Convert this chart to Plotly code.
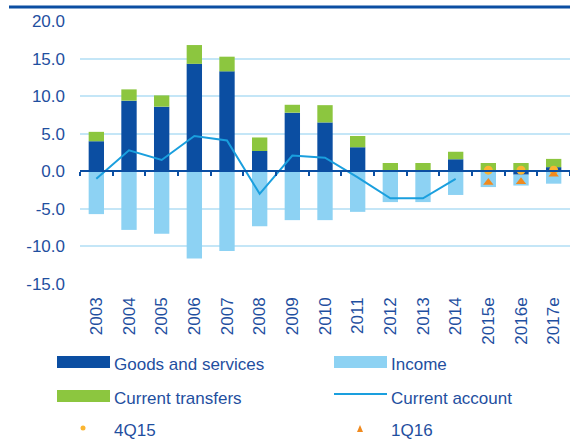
import plotly.graph_objects as go

# ---------------- data ----------------
years = ['2003', '2004', '2005', '2006', '2007', '2008', '2009', '2010',
         '2011', '2012', '2013', '2014', '2015e', '2016e', '2017e']
goods = [4.0, 9.4, 8.6, 14.3, 13.3, 2.7, 7.8, 6.5, 3.2, 0.0, 0.0, 1.6, 0.0, -0.45, 0.55]
income = [-5.7, -7.8, -8.3, -11.6, -10.6, -7.3, -6.5, -6.5, -5.4, -4.1, -4.1, -3.15,
          -2.1, -1.45, -1.65]
transfers = [1.25, 1.5, 1.5, 2.5, 1.95, 1.8, 1.05, 2.3, 1.5, 1.1, 1.1, 1.0, 1.1, 1.1, 1.1]
ca_years = years[:12]
current_account = [-1.0, 2.8, 1.5, 4.7, 4.1, -3.0, 2.1, 1.8, -0.8, -3.6, -3.6, -1.0]
fc_years = ['2015e', '2016e', '2017e']
q4_15 = [0.15, 0.15, 0.15]
q1_16 = [-1.5, -1.4, -0.4]
y_ticks = [-15, -10, -5, 0, 5, 10, 15, 20]
y_ticktext = ['{:.1f}'.format(v) for v in y_ticks]

# ---------------- style ----------------
C_GOODS = '#0b4ea2'
C_INCOME = '#8dd2f3'
C_TRANS = '#8cc63f'
C_LINE = '#1a9fde'
C_DOT = '#fbb530'
C_TRI = '#f08a1e'
C_TEXT = '#1f4f9f'
C_GRID = '#c4e6f7'
FONT = 'Liberation Sans, Arial, sans-serif'
FS = 17

W, H = 570, 441
L, R, T, B = 80, 0, 21, 157


def px_x(x):
    return (x - L) / (W - L - R)


def px_y(y):
    return 1 - (y - T) / (H - T - B)


fig = go.Figure()
fig.add_trace(go.Bar(x=years, y=goods, name='Goods and services',
                     marker=dict(color=C_GOODS, line=dict(width=0))))
fig.add_trace(go.Bar(x=years, y=income, name='Income',
                     marker=dict(color=C_INCOME, line=dict(width=0))))
fig.add_trace(go.Bar(x=years, y=transfers, name='Current transfers',
                     marker=dict(color=C_TRANS, line=dict(width=0))))
fig.add_trace(go.Scatter(x=ca_years, y=current_account, name='Current account',
                         mode='lines', line=dict(color=C_LINE, width=2)))
fig.add_trace(go.Scatter(x=fc_years, y=q4_15, name='4Q15', mode='markers',
                         marker=dict(symbol='circle', size=9, color=C_DOT),
                         cliponaxis=False))
fig.add_trace(go.Scatter(x=fc_years, y=q1_16, name='1Q16', mode='markers',
                         marker=dict(symbol='triangle-up', size=9, color=C_TRI),
                         cliponaxis=False))
# helper trace so the overlay axis (zero line with boundary ticks) is drawn
fig.add_trace(go.Scatter(x=[-0.5, 14.5], y=[0, 0], xaxis='x2', mode='none',
                         showlegend=False, hoverinfo='skip'))

shapes = [
    dict(type='line', xref='paper', yref='paper', x0=px_x(9), x1=px_x(570),
         y0=px_y(7), y1=px_y(7), line=dict(color=C_GOODS, width=3)),
]
annotations = []

# manual legend
leg = [
    ('rect', C_GOODS, 57, 364, 'Goods and services'),
    ('rect', C_INCOME, 334, 364, 'Income'),
    ('rect', C_TRANS, 57, 398, 'Current transfers'),
    ('line', C_LINE, 334, 398, 'Current account'),
    ('dot', C_DOT, 57, 430, '4Q15'),
    ('tri', C_TRI, 334, 430, '1Q16'),
]
for kind, col, x0, yc, label in leg:
    if kind == 'rect':
        shapes.append(dict(type='rect', xref='paper', yref='paper',
                           x0=px_x(x0), x1=px_x(x0 + 53), y0=px_y(yc - 8), y1=px_y(yc + 4),
                           fillcolor=col, line=dict(width=0)))
    elif kind == 'line':
        shapes.append(dict(type='line', xref='paper', yref='paper',
                           x0=px_x(x0), x1=px_x(x0 + 53), y0=px_y(yc - 4), y1=px_y(yc - 4),
                           line=dict(color=col, width=2)))
    elif kind == 'dot':
        cx, cy = x0 + 26, yc - 2
        shapes.append(dict(type='circle', xref='paper', yref='paper',
                           x0=px_x(cx - 2.5), x1=px_x(cx + 2.5), y0=px_y(cy - 2.5), y1=px_y(cy + 2.5),
                           fillcolor=col, line=dict(width=0)))
    else:
        cx, cy = x0 + 26, yc - 1
        path = 'M {} {} L {} {} L {} {} Z'.format(px_x(cx - 3), px_y(cy + 3),
                                                 px_x(cx + 3), px_y(cy + 3),
                                                 px_x(cx), px_y(cy - 4))
        shapes.append(dict(type='path', xref='paper', yref='paper', path=path,
                           fillcolor=col, line=dict(width=0)))
    annotations.append(dict(xref='paper', yref='paper', x=px_x(x0 + 55), y=px_y(yc),
                            xanchor='left', yanchor='middle', text=label, showarrow=False,
                            font=dict(family=FONT, size=FS, color=C_TEXT)))

fig.update_layout(
    width=W, height=H,
    margin=dict(l=L, r=R, t=T, b=B, pad=0),
    paper_bgcolor='white', plot_bgcolor='white',
    barmode='relative', bargap=0.53,
    showlegend=False,
    font=dict(family=FONT, size=FS, color=C_TEXT),
    xaxis=dict(type='category', range=[-0.5, 14.5], tickangle=-90,
               showgrid=False, zeroline=False, showline=False, ticks='',
               ticklabelstandoff=9,
               tickfont=dict(family=FONT, size=FS, color=C_TEXT)),
    xaxis2=dict(overlaying='x', anchor='free', position=15 / 35, type='linear',
                range=[-0.5, 14.5], tick0=-0.5, dtick=1, ticks='outside',
                ticklen=4, tickwidth=2, tickcolor=C_GOODS,
                showline=True, linecolor=C_GOODS, linewidth=2,
                showticklabels=False, showgrid=False, zeroline=False,
                layer='above traces'),
    yaxis=dict(range=[-15, 20], tickvals=y_ticks, ticktext=y_ticktext,
               showgrid=True, gridcolor=C_GRID, gridwidth=2,
               zeroline=False, showline=False, ticks='',
               ticklabelstandoff=14,
               tickfont=dict(family=FONT, size=FS, color=C_TEXT)),
    shapes=shapes,
    annotations=annotations,
)

fig.write_html('out.html', config={'displayModeBar': False},
               post_script="document.body.style.margin='0px';document.body.style.padding='0px';")
